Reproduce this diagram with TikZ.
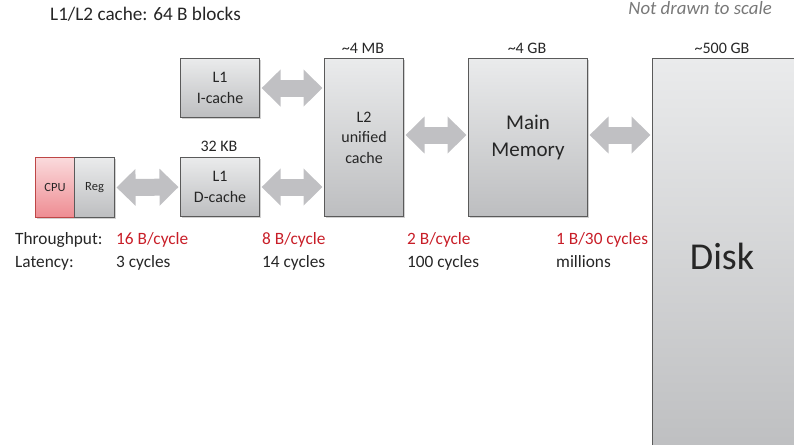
\documentclass[tikz,border=0pt]{standalone}
\usepackage{fontspec}
\setmainfont{Carlito}
\usetikzlibrary{arrows.meta,shadows}
\definecolor{boxtop}{RGB}{234,235,236}
\definecolor{boxbot}{RGB}{189,190,192}
\definecolor{boxline}{RGB}{90,90,90}
\definecolor{cputop}{RGB}{250,218,220}
\definecolor{cpubot}{RGB}{238,140,146}
\definecolor{cpuline}{RGB}{190,70,70}
\definecolor{linkgray}{RGB}{192,192,195}
\definecolor{rate}{RGB}{200,30,40}
\definecolor{textdark}{RGB}{38,38,38}
\definecolor{notegray}{RGB}{120,120,120}
\tikzset{
  x=1pt, y=-1pt,
  every node/.style={text=textdark, font=\fontsize{16}{20.5}\selectfont},
  unit/.style={draw=boxline, line width=1.1pt, top color=boxtop, bottom color=boxbot,
    align=center, inner sep=0pt,
    drop shadow={shadow xshift=1.5pt, shadow yshift=-1.5pt, opacity=0.18, fill=black}},
  cpuunit/.style={unit, draw=cpuline, top color=cputop, bottom color=cpubot},
  link/.style={draw=linkgray, line width=17pt,
    {Triangle[width=36pt,length=19pt]}-{Triangle[width=36pt,length=19pt]},
    shorten <=1.5pt, shorten >=1.5pt},
  caption/.style={anchor=base, inner sep=0pt},
  rowtext/.style={anchor=base west, inner sep=0pt, font=\fontsize{17.3}{20}\selectfont},
}
\begin{document}
\begin{tikzpicture}
\useasboundingbox (0,0) rectangle (794,444);

% notes at the top
\node[anchor=base west, inner sep=0pt, font=\fontsize{19.2}{23}\selectfont] (title) at (50,21) {L1/L2 cache: 64 B blocks};
\node[anchor=base east, inner sep=0pt, text=notegray, font=\fontsize{18.8}{22}\selectfont\itshape] (note) at (772,15) {Not drawn to scale};

% storage units
\node[unit, minimum width=160pt, minimum height=400pt, anchor=north west] (disk) at (652,58) {};
\node (disktext) at (722,256) {\fontsize{38}{44}\selectfont Disk};
\node[cpuunit, minimum width=39pt, minimum height=60pt, anchor=north west,
  font=\fontsize{12.5}{15}\selectfont] (cpu) at (35,157) {CPU};
\node[unit, minimum width=40pt, minimum height=60pt, anchor=north west,
  font=\fontsize{12.5}{15}\selectfont] (reg) at (74,157) {Reg};
\node[unit, minimum width=79pt, minimum height=59pt, anchor=north west] (icache) at (180,58) {L1\\I-cache};
\node[unit, minimum width=79pt, minimum height=59pt, anchor=north west] (dcache) at (180,157) {L1\\D-cache};
\node[unit, minimum width=79pt, minimum height=158pt, anchor=north west] (l2) at (324,58) {L2\\unified\\cache};
\node[unit, minimum width=119pt, minimum height=158pt, anchor=north west,
  font=\fontsize{21}{27}\selectfont] (mem) at (468,58) {Main\\Memory};

% sizes
\node[caption] (dsize) at (219,151) {32 KB};
\node[caption] (l2size) at (363,53) {\textasciitilde 4 MB};
\node[caption] (memsize) at (527,53) {\textasciitilde 4 GB};
\node[caption] (disksize) at (722,53) {\textasciitilde 500 GB};

% transfer paths
\draw[link] (reg.east) -- (dcache.west);
\draw[link] (icache.east) -- (icache.east -| l2.west);
\draw[link] (dcache.east) -- (dcache.east -| l2.west);
\draw[link] (l2.east |- 0,135) -- (mem.west |- 0,135);
\draw[link] (mem.east |- 0,135) -- (disk.west |- 0,135);

% throughput and latency rows
\node[rowtext] (tplabel) at (15,244) {Throughput:};
\node[rowtext] (latlabel) at (15,267) {Latency:};
\node[rowtext, text=rate] (tp1) at (116,244) {16 B/cycle};
\node[rowtext, text=rate] (tp2) at (262,244) {8 B/cycle};
\node[rowtext, text=rate] (tp3) at (407,244) {2 B/cycle};
\node[rowtext, text=rate] (tp4) at (556,244) {1 B/30 cycles};
\node[rowtext] (lat1) at (116,267) {3 cycles};
\node[rowtext] (lat2) at (262,267) {14 cycles};
\node[rowtext] (lat3) at (407,267) {100 cycles};
\node[rowtext] (lat4) at (556,267) {millions};
\end{tikzpicture}
\end{document}
